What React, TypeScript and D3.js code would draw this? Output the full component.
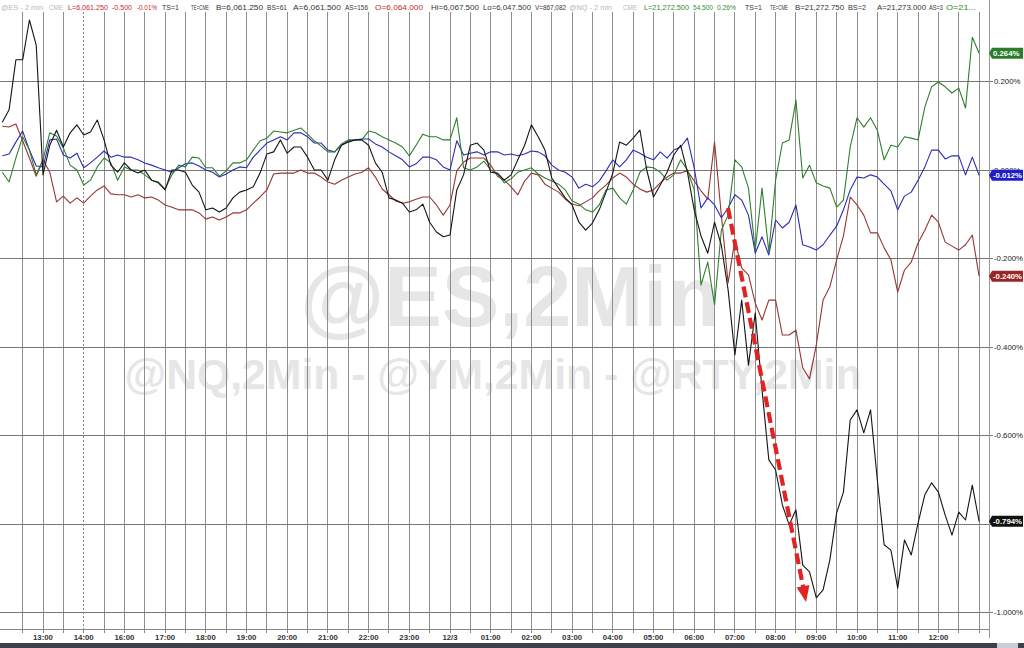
import React, { useEffect, useRef } from "react";
import * as d3 from "d3";

// ---------- data ----------
const timeLabels = ["13:00","14:00","16:00","17:00","18:00","19:00","20:00","21:00","22:00","23:00","12/3","01:00","02:00","03:00","04:00","05:00","06:00","07:00","08:00","09:00","10:00","11:00","12:00"];
const yTicks = [0.2, 0, -0.2, -0.4, -0.6, -0.8, -1.0];
const startHour = -1;
const stepHours = 1 / 6;

// @RTY (black)
const rtySeries = [
  0.108,0.136,0.249,0.249,0.339,0.282,-0.011,0.056,0.090,0.052,
  0.084,0.102,0.079,0.086,0.113,0.068,0.011,-0.005,0.016,0,
  -0.007,0,-0.023,-0.029,-0.045,0,0,-0.005,-0.034,-0.050,
  -0.090,-0.086,-0.095,-0.086,-0.063,-0.050,-0.045,-0.038,-0.007,0.036,
  0.041,0.068,0.038,0.052,0.052,0.029,0,0,-0.023,0.023,
  0.056,0.063,0.068,0.068,0.056,0.016,-0.005,-0.063,-0.068,-0.075,
  -0.095,-0.090,-0.077,-0.118,-0.140,-0.151,-0.147,-0.045,-0.011,0.056,
  0.061,0.045,-0.005,-0.007,-0.023,-0.011,0.023,0.056,0.102,0.075,
  0.045,-0.018,-0.041,-0.063,-0.079,-0.118,-0.136,-0.120,-0.090,-0.050,
  -0.007,0.063,0.056,0.072,0.090,0,-0.061,-0.034,-0.005,0.034,
  0.056,-0.005,-0.090,-0.149,-0.188,-0.118,-0.170,-0.271,-0.418,-0.294,
  -0.441,-0.323,-0.497,-0.655,-0.678,-0.757,-0.802,-0.768,-0.893,-0.908,
  -0.967,-0.949,-0.881,-0.775,-0.728,-0.565,-0.542,-0.594,-0.542,-0.701,
  -0.847,-0.859,-0.945,-0.836,-0.870,-0.798,-0.734,-0.707,-0.728,-0.780,
  -0.825,-0.773,-0.791,-0.712,-0.794
];

// @NQ (green)
const nqSeries = [
  -0.005,-0.027,0.027,0.075,0.045,-0.011,0.023,0.084,0.077,0.050,
  0.011,0,-0.034,-0.023,0.007,0.027,0.016,-0.023,0.007,0,
  0,-0.011,-0.023,-0.027,-0.043,-0.011,0.011,0.007,0.029,0.027,
  0.005,0.005,-0.014,-0.002,0.016,0.016,0.023,0.045,0.066,0.072,
  0.088,0.086,0.084,0.090,0.095,0.081,0.066,0.054,0.041,0.041,
  0.059,0.068,0.068,0.068,0.088,0.084,0.075,0.068,0.061,0.052,
  0.032,0.056,0.081,0.075,0.075,0.068,0.068,0.118,0.005,0,
  0.007,0.020,0,-0.009,-0.029,-0.020,-0.005,0,0.005,-0.009,
  -0.018,-0.025,-0.032,-0.045,-0.070,-0.077,-0.090,-0.095,-0.079,-0.045,
  -0.041,-0.063,-0.077,-0.045,-0.005,0.007,0.005,-0.005,-0.023,-0.011,
  0.023,0,-0.045,-0.260,-0.208,-0.305,-0.136,-0.102,0.023,0.007,
  -0.041,-0.181,-0.041,-0.185,-0.023,0.061,0.068,0.158,-0.018,0.011,
  -0.029,-0.036,-0.041,-0.084,-0.068,0.052,0.118,0.097,0.118,0.090,
  0.023,0.056,0.052,0.075,0.072,0.068,0.142,0.188,0.199,0.188,
  0.174,0.185,0.140,0.300,0.264
];

// @ES (blue)
const esSeries = [
  0.032,0.036,0.063,0.088,0.045,0.009,0.007,0.068,0.070,0.034,
  0.027,0.038,0.005,0.016,0.029,0.043,0.029,0.034,0.029,0.029,
  0.023,0.016,0.011,0.005,0,-0.005,0.005,0.014,0.016,0.009,
  0,-0.005,-0.016,-0.009,0,0.007,0.005,0.029,0.045,0.061,
  0.068,0.075,0.068,0.084,0.084,0.075,0.061,0.061,0.045,0.041,
  0.056,0.066,0.068,0.070,0.070,0.059,0.052,0.041,0.032,0.023,
  0.007,0.014,0.029,0.029,0.023,0.007,0,0.066,0.034,0.038,
  0.041,0.034,0.041,0.041,0.034,0.036,0.032,0.036,0.043,0.041,
  0.032,0.011,0,-0.005,-0.016,-0.041,-0.032,-0.038,-0.025,-0.002,
  0.023,0.007,0.023,0.045,0.038,0.029,0.023,0.041,0.027,0.045,
  0.052,0.072,0.005,-0.086,-0.063,-0.079,-0.108,-0.086,-0.056,-0.068,
  -0.102,-0.188,-0.151,-0.192,-0.113,-0.131,-0.118,-0.079,-0.169,-0.174,
  -0.181,-0.169,-0.147,-0.127,-0.090,-0.045,-0.016,-0.018,-0.011,-0.016,
  -0.032,-0.047,-0.090,-0.059,-0.050,-0.023,0.007,0.045,0.045,0.025,
  0.032,0.032,-0.011,0.029,-0.012
];

// @YM (dark red)
const ymSeries = [
  0.099,0.097,0.104,0.066,0.027,-0.014,0.023,-0.005,-0.072,-0.059,
  -0.075,-0.063,-0.075,-0.059,-0.045,-0.036,-0.054,-0.056,-0.056,-0.061,
  -0.056,-0.063,-0.061,-0.068,-0.079,-0.084,-0.090,-0.090,-0.090,-0.097,
  -0.111,-0.106,-0.113,-0.106,-0.097,-0.097,-0.090,-0.075,-0.061,-0.045,
  -0.009,-0.007,-0.007,-0.007,0,-0.007,-0.007,-0.016,-0.027,-0.032,
  -0.023,-0.016,-0.009,-0.005,0.005,-0.016,-0.043,-0.056,-0.070,-0.075,
  -0.072,-0.066,-0.061,-0.061,-0.079,-0.102,-0.079,-0.002,0.018,0.027,
  0.027,0.027,0.011,-0.014,-0.023,-0.038,-0.056,-0.025,-0.007,-0.011,
  -0.032,-0.041,-0.050,-0.066,-0.077,-0.081,-0.072,-0.063,-0.047,-0.034,
  -0.018,-0.007,-0.016,-0.032,-0.043,-0.050,-0.045,-0.029,-0.016,-0.007,
  -0.007,-0.002,-0.025,-0.047,-0.066,0.063,-0.102,-0.255,-0.158,-0.221,
  -0.237,-0.301,-0.339,-0.294,-0.294,-0.373,-0.373,-0.362,-0.447,-0.472,
  -0.395,-0.294,-0.264,-0.203,-0.149,-0.061,-0.079,-0.102,-0.142,-0.142,
  -0.176,-0.203,-0.276,-0.226,-0.208,-0.165,-0.136,-0.102,-0.118,-0.163,
  -0.172,-0.181,-0.169,-0.147,-0.240
];

const lastValues = [0.264, -0.012, -0.240, -0.794];
const lastColors = ["#2a7d2a", "#1f1fd0", "#9b2424", "#111111"];

const arrowFrom = { h: 16.83, v: -0.086 };
const arrowTo = { h: 18.75, v: -0.976 };

// [text, x, width, colour]
const headerSegments: [string, number, number, string][] = [
  ["@ES - 2 min", 1, 42, "#b8b8b8"],
  ["CME", 49, 14, "#b8b8b8"],
  ["L=6,061.250", 68, 40, "#c62828"],
  ["-0.500", 112, 20, "#c62828"],
  ["-0.01%", 137, 20, "#c62828"],
  ["TS=1", 162, 17, "#333"],
  ["TE=CME", 191, 18, "#333"],
  ["B=6,061.250", 216, 47, "#333"],
  ["BS=61", 267, 20, "#333"],
  ["A=6,061.500", 293, 48, "#333"],
  ["AS=156", 345, 23, "#333"],
  ["O=6,064.000", 375, 48, "#c62828"],
  ["Hi=6,067.500", 431, 48, "#333"],
  ["Lo=6,047.500", 483, 48, "#333"],
  ["V=867,082", 535, 31, "#333"],
  ["@NQ - 2 min", 569, 43, "#b8b8b8"],
  ["CME", 623, 14, "#b8b8b8"],
  ["L=21,272.500", 644, 45, "#2e8b2e"],
  ["54.500", 693, 20, "#2e8b2e"],
  ["0.26%", 717, 19, "#2e8b2e"],
  ["TS=1", 745, 17, "#333"],
  ["TE=CME", 770, 18, "#333"],
  ["B=21,272.750", 795, 49, "#333"],
  ["BS=2", 848, 18, "#333"],
  ["A=21,273.000", 877, 49, "#333"],
  ["AS=3", 929, 14, "#333"],
  ["O=21...", 946, 30, "#2e8b2e"],
];

const FONT = "'Liberation Sans', Arial, sans-serif";

export default function App() {
  const ref = useRef<SVGSVGElement | null>(null);

  useEffect(() => {
    document.body.style.margin = "0";
    const svg = d3.select(ref.current);
    svg.selectAll("*").remove();

    const W = 1024, H = 648;
    const axisX = 989;
    const plotBottom = 629;

    const x = d3.scaleLinear().domain([0, 22]).range([43, 938.4]);
    const y = d3.scaleLinear().domain([0.2, -1.0]).range([81.5, 612.5]);

    svg.append("rect").attr("width", W).attr("height", H).attr("fill", "#fff");

    // watermarks
    svg.append("text").attr("x", 510).attr("y", 326).attr("text-anchor", "middle")
      .attr("font-family", FONT).attr("font-weight", "bold").attr("font-size", 86)
      .attr("fill", "#e6e6e6").attr("textLength", 420).attr("lengthAdjust", "spacingAndGlyphs")
      .text("@ES,2Min");
    svg.append("text").attr("x", 493).attr("y", 389).attr("text-anchor", "middle")
      .attr("font-family", FONT).attr("font-weight", "bold").attr("font-size", 42)
      .attr("fill", "#e6e6e6").attr("textLength", 737).attr("lengthAdjust", "spacingAndGlyphs")
      .text("@NQ,2Min - @YM,2Min - @RTY,2Min");

    // vertical gridlines every half hour
    const halfHours = d3.range(-1, 47).map((j) => j / 2);
    svg.append("g").selectAll("line").data(halfHours).join("line")
      .attr("x1", (d) => x(d)).attr("x2", (d) => x(d))
      .attr("y1", 12).attr("y2", plotBottom)
      .attr("stroke", (d) => (d === 1 ? "#888" : "#8e8e8e"))
      .attr("stroke-dasharray", (d) => (d === 1 ? "2,2" : null))
      .attr("stroke-width", 1)
      .attr("shape-rendering", "crispEdges");

    // horizontal gridlines
    svg.append("g").selectAll("line").data(yTicks).join("line")
      .attr("x1", 0).attr("x2", axisX + 4)
      .attr("y1", (d) => y(d)).attr("y2", (d) => y(d))
      .attr("stroke", "#777").attr("stroke-width", 1)
      .attr("shape-rendering", "crispEdges");

    // header text
    const hdr = svg.append("g").attr("font-family", FONT).attr("font-size", 7.6);
    headerSegments.forEach(([t, hx, w, c]) => {
      hdr.append("text").attr("x", hx).attr("y", 9.5).attr("fill", c)
        .attr("textLength", w).attr("lengthAdjust", "spacingAndGlyphs").text(t);
    });

    // series
    svg.append("clipPath").attr("id", "plotclip").append("rect")
      .attr("x", 0).attr("y", 0).attr("width", axisX).attr("height", plotBottom);

    const line = d3.line<number>()
      .x((_, i) => x(startHour + i * stepHours))
      .y((d) => y(d));

    const series = [
      { values: ymSeries, color: "#983434" },
      { values: esSeries, color: "#2c2cb4" },
      { values: nqSeries, color: "#2f7f2f" },
      { values: rtySeries, color: "#151515" },
    ];
    const g = svg.append("g").attr("clip-path", "url(#plotclip)");
    series.forEach((s) => {
      g.append("path").attr("d", line(s.values) as string)
        .attr("fill", "none").attr("stroke", s.color).attr("stroke-width", 1.1)
        .attr("stroke-linejoin", "round");
    });

    // red dashed arrow annotation
    const p0 = [x(arrowFrom.h), y(arrowFrom.v)];
    const p1 = [x(arrowTo.h), y(arrowTo.v)];
    const dx = p1[0] - p0[0], dy = p1[1] - p0[1];
    const len = Math.hypot(dx, dy);
    const ux = dx / len, uy = dy / len;
    const headLen = 16, headHalf = 6.5;
    svg.append("line")
      .attr("x1", p0[0]).attr("y1", p0[1])
      .attr("x2", p1[0] - ux * (headLen - 2)).attr("y2", p1[1] - uy * (headLen - 2))
      .attr("stroke", "#e02424").attr("stroke-width", 4.2).attr("stroke-dasharray", "11,5");
    const bx = p1[0] - ux * headLen, by = p1[1] - uy * headLen;
    svg.append("path")
      .attr("d", `M${p1[0]},${p1[1]} L${bx - uy * headHalf},${by + ux * headHalf} L${bx + uy * headHalf},${by - ux * headHalf} Z`)
      .attr("fill", "#e02424");

    // right axis
    svg.append("line").attr("x1", axisX).attr("x2", axisX).attr("y1", 0).attr("y2", 638)
      .attr("stroke", "#999").attr("shape-rendering", "crispEdges");
    // tick labels fully covered by a last-value box are not drawn (as in the source)
    const visibleTicks = yTicks.filter((t) => !lastValues.some((v) => Math.abs(y(v) - y(t)) < 4));
    svg.append("g").selectAll("text").data(visibleTicks).join("text")
      .attr("x", axisX + 5).attr("y", (d) => y(d) + 2.8)
      .attr("font-family", FONT).attr("font-size", 7.8).attr("fill", "#222")
      .text((d) => d.toFixed(3) + "%");

    // last value boxes
    lastValues.forEach((v, i) => {
      const cy = y(v);
      svg.append("path")
        .attr("d", `M${axisX},${cy} L${axisX + 3},${cy - 5.5} L1023,${cy - 5.5} L1023,${cy + 5.5} L${axisX + 3},${cy + 5.5} Z`)
        .attr("fill", lastColors[i]);
      svg.append("text").attr("x", axisX + 4).attr("y", cy + 2.8)
        .attr("font-family", FONT).attr("font-size", 7.8).attr("font-weight", "bold")
        .attr("fill", "#fff").text(v.toFixed(3) + "%");
    });

    // bottom axis
    svg.append("line").attr("x1", 0).attr("x2", axisX).attr("y1", plotBottom).attr("y2", plotBottom)
      .attr("stroke", "#888").attr("shape-rendering", "crispEdges");
    svg.append("g").selectAll("line").data(halfHours).join("line")
      .attr("x1", (d) => x(d)).attr("x2", (d) => x(d))
      .attr("y1", plotBottom).attr("y2", plotBottom + 4)
      .attr("stroke", "#888").attr("shape-rendering", "crispEdges");
    svg.append("g").selectAll("text").data(timeLabels).join("text")
      .attr("x", (_, i) => x(i)).attr("y", 640)
      .attr("text-anchor", "middle").attr("font-family", FONT)
      .attr("font-size", 7.8).attr("font-weight", "bold").attr("fill", "#333")
      .text((d) => d);

    // scrollbar strip
    svg.append("rect").attr("x", 0).attr("y", 643).attr("width", W).attr("height", 5).attr("fill", "#3b414b");
    svg.append("rect").attr("x", 997).attr("y", 643).attr("width", 21).attr("height", 5).attr("fill", "#c9ced6");
  }, []);

  return (
    <svg ref={ref} width={1024} height={648} style={{ position: "absolute", left: 0, top: 0, display: "block" }} />
  );
}
